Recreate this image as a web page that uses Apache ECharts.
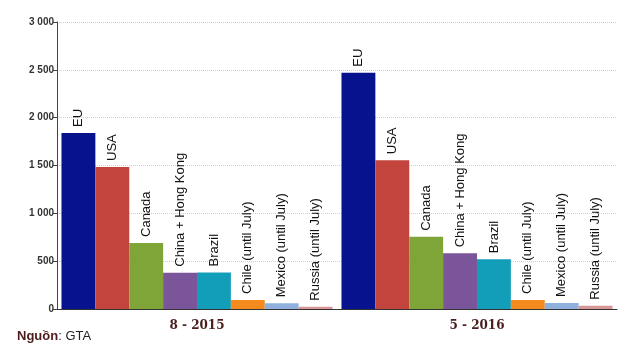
<!DOCTYPE html>
<html>
<head>
<meta charset="utf-8">
<script src="https://cdn.jsdelivr.net/npm/echarts@6/dist/echarts.min.js"></script>
<style>
  html, body { margin: 0; padding: 0; background: #fff; }
  #chart { width: 628px; height: 352px; }
</style>
</head>
<body>
<div id="chart"></div>
<script>
const periods = ['8 - 2015', '5 - 2016']
const markets = ['EU', 'USA', 'Canada', 'China + Hong Kong', 'Brazil', 'Chile (until July)', 'Mexico (until July)', 'Russia (until July)']
const eu = [1840, 2470]
const usa = [1485, 1555]
const canada = [690, 755]
const china = [380, 582]
const brazil = [382, 520]
const chile = [95, 95]
const mexico = [60, 63]
const russia = [24, 35]
const values = [eu, usa, canada, china, brazil, chile, mexico, russia]
const colors = ['#07128f', '#c2443d', '#7fa538', '#7a5599', '#129eb9', '#f58a1f', '#8fb0dd', '#d89797']
const yTicks = [0, 500, 1000, 1500, 2000, 2500, 3000]

const chart = echarts.init(document.getElementById('chart'))

const fmt = (v) => {
	let s = String(v)
	return s.length > 3 ? s.slice(0, s.length - 3) + ' ' + s.slice(-3) : s
}

const option = {
	animation: false,
	textStyle: { fontFamily: 'Liberation Sans, Arial, sans-serif' },
	title: {
		left: 12,
		top: 325,
		text: '{b|Nguồn}{n|: GTA}',
		textStyle: {
			rich: {
				b: { fontSize: 13, fontWeight: 'bold', color: '#4b1c1c', fontFamily: 'Liberation Sans' },
				n: { fontSize: 13, fontWeight: 'normal', color: '#222', fontFamily: 'Liberation Sans' },
			},
		},
	},
	grid: { left: 57, right: 11, top: 22, bottom: 43 },
	xAxis: {
		type: 'category',
		data: periods,
		axisTick: { show: false },
		axisLine: { lineStyle: { color: '#333', width: 1 } },
		axisLabel: {
			margin: 11,
			fontFamily: 'DejaVu Serif',
			fontWeight: 'bold',
			fontSize: 12,
			color: '#4b1c1c',
		},
	},
	yAxis: {
		type: 'value',
		min: yTicks[0],
		max: yTicks[yTicks.length - 1],
		interval: 500,
		axisLine: { show: true, lineStyle: { color: '#444' } },
		axisTick: { show: true, length: 4, lineStyle: { color: '#444' } },
		axisLabel: {
			fontSize: 10,
			fontWeight: 'bold',
			color: '#333',
			margin: 3,
			formatter: fmt,
		},
		splitLine: { lineStyle: { color: '#cfcfcf', type: 'dotted' } },
	},
	series: markets.map((name, i) => ({
		name: name,
		type: 'bar',
		data: values[i],
		barGap: '0%',
		barCategoryGap: '3.2%',
		itemStyle: { color: colors[i] },
		label: {
			show: true,
			position: 'top',
			rotate: 90,
			align: 'left',
			verticalAlign: 'middle',
			distance: 6,
			formatter: name,
			fontSize: 13,
			color: '#111',
			fontFamily: 'Liberation Sans',
		},
	})),
}

chart.setOption(option)
</script>
</body>
</html>
